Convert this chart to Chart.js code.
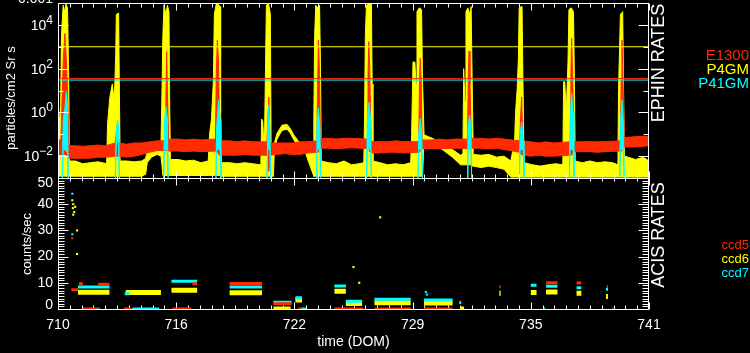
<!DOCTYPE html>
<html>
<head>
<meta charset="utf-8">
<script src="https://cdn.jsdelivr.net/npm/chart.js"></script>
<style>
  html, body { margin: 0; padding: 0; background: #000; }
  #wrap { position: relative; width: 750px; height: 353px; overflow: hidden; background: #000; }
  canvas { position: absolute; left: 0; }
  #ephin { top: 0; width: 750px; height: 180px; }
  #acis { top: 160px; width: 750px; height: 193px; }
</style>
</head>
<body>
<div id="wrap">
  <canvas id="ephin" width="750" height="180"></canvas>
  <canvas id="acis" width="750" height="193"></canvas>
</div>
<script>
// --- EPHIN rates, rows are [day, high, low] of the plotted band ---
const p4gmRows = [
  [710.00, 0.08, 0.0012], [710.14, 2, 0.0012], [710.18, 3000, 0.0012], [710.27, 80000, 0.0012],
  [710.34, 40000, 0.0012], [710.42, 90000, 0.0012], [710.50, 60000, 0.0012], [710.56, 50, 0.0012],
  [710.60, 0.006, 0.0012], [710.90, 0.006, 0.0012], [711.30, 0.0045, 0.0012], [711.70, 0.005, 0.0012],
  [712.10, 0.0055, 0.0012], [712.55, 0.0045, 0.0012], [712.60, 0.3, 0.0012], [712.72, 5, 0.0012],
  [712.85, 20, 0.0012], [712.95, 3, 0.0012], [713.03, 500, 0.0012], [713.06, 30000, 0.0012],
  [713.18, 35000, 0.0012], [713.22, 10, 0.0012], [713.26, 0.006, 0.0012], [713.60, 0.006, 0.0012],
  [714.00, 0.0055, 0.0012], [714.40, 0.006, 0.0012], [714.60, 0.008, 0.0015], [714.68, 0.02, 0.005],
  [714.90, 0.03, 0.009], [715.20, 0.035, 0.012], [715.40, 0.03, 0.01], [715.45, 5, 0.004],
  [715.50, 3000, 0.0013], [715.56, 80000, 0.0013], [715.66, 30000, 0.0013], [715.74, 80000, 0.0013],
  [715.82, 40000, 0.0013], [715.86, 2, 0.0013], [715.90, 0.007, 0.0013], [716.30, 0.007, 0.0013],
  [716.70, 0.006, 0.0013], [717.10, 0.0065, 0.0013], [717.50, 0.005, 0.0013], [717.88, 0.006, 0.0013],
  [717.95, 0.1, 0.0013], [718.05, 0.5, 0.0013], [718.15, 30, 0.0013], [718.20, 30000, 0.0013],
  [718.30, 90000, 0.0013], [718.40, 90000, 0.0013], [718.50, 70000, 0.0013], [718.53, 1, 0.0012],
  [718.57, 0.005, 0.0012], [719.00, 0.005, 0.0012], [719.40, 0.0045, 0.0012], [719.80, 0.005, 0.0012],
  [720.20, 0.0045, 0.0012], [720.64, 0.004, 0.0012], [720.68, 0.5, 0.0012], [720.74, 0.4, 0.0012],
  [720.82, 0.01, 0.0012], [720.93, 80000, 0.0012], [721.05, 90000, 0.0012], [721.14, 30000, 0.0012],
  [721.18, 0.01, 0.0012], [721.30, 0.02, 0.0012], [721.35, 0.04, 0.02], [721.49, 0.11, 0.06],
  [721.75, 0.26, 0.15], [722.02, 0.28, 0.17], [722.19, 0.18, 0.11], [722.37, 0.093, 0.055],
  [722.63, 0.046, 0.027], [722.98, 0.027, 0.014], [723.20, 0.02, 0.004], [723.38, 0.016, 0.0015],
  [723.42, 0.5, 0.0012], [723.46, 3000, 0.0012], [723.52, 80000, 0.0012], [723.62, 60000, 0.0012],
  [723.72, 80000, 0.0012], [723.77, 100, 0.0012], [723.81, 0.006, 0.0012], [724.20, 0.005, 0.0012],
  [724.60, 0.0045, 0.0012], [725.00, 0.006, 0.0012], [725.40, 0.004, 0.0012], [725.80, 0.0045, 0.0012],
  [726.04, 0.005, 0.0012], [726.08, 0.6, 0.0012], [726.12, 3000, 0.0012], [726.18, 80000, 0.0012],
  [726.30, 90000, 0.0012], [726.44, 90000, 0.0012], [726.48, 20, 0.0012], [726.52, 0.006, 0.0012],
  [726.90, 0.005, 0.0012], [727.30, 0.004, 0.0012], [727.70, 0.0045, 0.0012], [728.10, 0.004, 0.0012],
  [728.50, 0.005, 0.0012], [728.55, 0.1, 0.0012], [728.62, 200, 0.0012], [728.72, 200, 0.0012],
  [728.78, 20, 0.0012], [728.83, 40000, 0.0012], [728.95, 60000, 0.0012], [729.07, 50000, 0.0012],
  [729.12, 30, 0.0012], [729.20, 0.093, 0.05], [729.64, 0.065, 0.035], [730.16, 0.04, 0.02],
  [730.69, 0.02, 0.009], [731.12, 0.011, 0.004], [731.24, 0.013, 0.004], [731.28, 100, 0.004],
  [731.35, 3, 0.004], [731.40, 40000, 0.004], [731.50, 60000, 0.004], [731.58, 30000, 0.004],
  [731.67, 70000, 0.004], [731.72, 50, 0.0035], [731.78, 0.012, 0.0035], [732.20, 0.011, 0.003],
  [732.60, 0.012, 0.0035], [733.00, 0.009, 0.003], [733.40, 0.01, 0.0025], [733.75, 0.006, 0.0011],
  [733.95, 0.05, 0.0011], [734.00, 1, 0.0011], [734.08, 10, 0.0011], [734.15, 300, 0.0011],
  [734.19, 60000, 0.0011], [734.34, 70000, 0.0011], [734.40, 5, 0.0011], [734.45, 0.005, 0.0011],
  [734.90, 0.004, 0.0011], [735.30, 0.0035, 0.0011], [735.70, 0.004, 0.0011], [736.10, 0.0045, 0.0011],
  [736.48, 0.004, 0.0011], [736.52, 25, 0.0011], [736.58, 25, 0.0011], [736.66, 1, 0.0011],
  [736.75, 200, 0.0011], [736.80, 50000, 0.0011], [736.92, 60000, 0.0011], [737.04, 40000, 0.0011],
  [737.08, 100, 0.0011], [737.13, 0.006, 0.0011], [737.50, 0.005, 0.0011], [737.90, 0.006, 0.0011],
  [738.30, 0.005, 0.0011], [738.70, 0.0055, 0.0011], [739.10, 0.005, 0.0011], [739.37, 0.004, 0.0011],
  [739.40, 10, 0.0011], [739.45, 500, 0.0011], [739.50, 30000, 0.0011], [739.62, 40000, 0.0011],
  [739.66, 30, 0.0011], [739.71, 0.01, 0.0011], [739.90, 0.009, 0.0011], [740.30, 0.007, 0.0011],
  [740.70, 0.009, 0.0011], [741.00, 0.006, 0.0011]
];

const e1300Rows = [
  [710.00, 0.065, 0.012], [710.15, 0.05, 0.012], [710.28, 300, 0.012], [710.36, 4000, 0.012],
  [710.42, 500, 0.012], [710.48, 30, 0.01], [710.58, 0.03, 0.008], [710.90, 0.03, 0.008],
  [711.30, 0.028, 0.008], [711.70, 0.03, 0.008], [712.10, 0.032, 0.009], [712.50, 0.03, 0.009],
  [713.00, 0.04, 0.01], [713.12, 0.3, 0.01], [713.20, 0.04, 0.01], [713.60, 0.035, 0.009],
  [714.00, 0.04, 0.01], [714.40, 0.04, 0.012], [714.80, 0.045, 0.015], [715.20, 0.05, 0.018],
  [715.62, 0.05, 0.018], [715.66, 5, 0.018], [715.70, 600, 0.018], [715.74, 10, 0.018],
  [715.80, 0.06, 0.017], [716.30, 0.06, 0.017], [716.70, 0.055, 0.016], [717.10, 0.06, 0.017],
  [717.50, 0.055, 0.016], [718.26, 0.06, 0.017], [718.30, 50, 0.017], [718.36, 2000, 0.017],
  [718.42, 200, 0.012], [718.48, 0.05, 0.011], [719.00, 0.05, 0.011], [719.40, 0.045, 0.011],
  [719.80, 0.05, 0.012], [720.20, 0.045, 0.011], [720.96, 0.045, 0.011], [721.00, 0.3, 0.011],
  [721.06, 5, 0.002], [721.12, 0.04, 0.011], [721.50, 0.04, 0.012], [721.90, 0.04, 0.013],
  [722.30, 0.04, 0.012], [722.70, 0.045, 0.012], [723.10, 0.045, 0.014], [723.58, 0.05, 0.015],
  [723.62, 30, 0.015], [723.66, 2000, 0.015], [723.71, 100, 0.02], [723.76, 0.065, 0.023],
  [724.20, 0.065, 0.023], [724.60, 0.06, 0.022], [725.00, 0.065, 0.023], [725.40, 0.065, 0.024],
  [726.22, 0.06, 0.022], [726.26, 40, 0.022], [726.30, 1700, 0.02], [726.35, 100, 0.016],
  [726.42, 0.046, 0.014], [726.90, 0.046, 0.014], [727.30, 0.045, 0.015], [727.70, 0.05, 0.015],
  [728.10, 0.046, 0.014], [728.92, 0.046, 0.015], [728.96, 20, 0.015], [729.00, 300, 0.018],
  [729.05, 30, 0.02], [729.10, 0.055, 0.022], [729.60, 0.055, 0.022], [730.00, 0.06, 0.022],
  [730.40, 0.055, 0.022], [730.80, 0.06, 0.023], [731.48, 0.06, 0.022], [731.52, 30, 0.022],
  [731.56, 630, 0.022], [731.61, 20, 0.022], [731.68, 0.065, 0.023], [732.20, 0.065, 0.023],
  [732.60, 0.06, 0.022], [733.00, 0.065, 0.023], [733.40, 0.06, 0.02], [734.22, 0.05, 0.015],
  [734.26, 0.5, 0.012], [734.32, 5, 0.012], [734.38, 0.05, 0.011], [734.80, 0.045, 0.01],
  [735.20, 0.04, 0.011], [735.60, 0.045, 0.01], [736.00, 0.04, 0.01], [736.86, 0.045, 0.011],
  [736.90, 40, 0.011], [736.94, 2500, 0.011], [736.99, 100, 0.014], [737.06, 0.046, 0.016],
  [737.50, 0.045, 0.016], [737.90, 0.046, 0.016], [738.30, 0.045, 0.015], [738.70, 0.046, 0.016],
  [739.50, 0.05, 0.017], [739.54, 30, 0.017], [739.58, 2000, 0.02], [739.63, 50, 0.025],
  [739.70, 0.07, 0.026], [740.10, 0.075, 0.026], [740.50, 0.08, 0.027], [741.00, 0.08, 0.03]
];

const p41gmRows = [
  [710.00, 0.0008, 0.0005], [710.22, 0.0008, 0.0005], [710.27, 0.5, 0.02], [710.36, 1.5, 0.02],
  [710.44, 9, 0.016], [710.50, 2, 0.02], [710.54, 0.0008, 0.0005], [713.00, 0.0008, 0.0005],
  [713.05, 0.1, 0.03], [713.12, 0.45, 0.05], [713.18, 0.2, 0.05], [713.22, 0.0008, 0.0005],
  [715.54, 0.0008, 0.0005], [715.58, 0.3, 0.02], [715.66, 1.8, 0.02], [715.74, 0.5, 0.02],
  [715.78, 0.0008, 0.0005], [718.28, 0.0008, 0.0005], [718.32, 0.2, 0.02], [718.42, 3.7, 0.02],
  [718.50, 0.5, 0.02], [718.54, 0.0008, 0.0005], [720.96, 0.0008, 0.0005], [721.00, 0.3, 0.02],
  [721.06, 2.2, 0.02], [721.12, 0.1, 0.02], [721.16, 0.0008, 0.0005], [723.54, 0.0008, 0.0005],
  [723.58, 0.3, 0.02], [723.66, 1.6, 0.02], [723.74, 0.2, 0.02], [723.78, 0.0008, 0.0005],
  [726.18, 0.0008, 0.0005], [726.22, 0.3, 0.02], [726.32, 3, 0.02], [726.40, 0.4, 0.02],
  [726.44, 0.0008, 0.0005], [728.88, 0.0008, 0.0005], [728.92, 0.1, 0.02], [729.00, 0.54, 0.02],
  [729.08, 0.1, 0.02], [729.12, 0.0008, 0.0005], [731.46, 0.0008, 0.0005], [731.50, 0.2, 0.02],
  [731.58, 0.76, 0.02], [731.66, 0.2, 0.02], [731.70, 0.0008, 0.0005], [734.20, 0.0008, 0.0005],
  [734.24, 0.1, 0.02], [734.32, 0.36, 0.02], [734.40, 0.05, 0.02], [734.44, 0.0008, 0.0005],
  [736.82, 0.0008, 0.0005], [736.86, 0.4, 0.02], [736.94, 7.6, 0.02], [737.02, 1, 0.02],
  [737.06, 0.0008, 0.0005], [739.46, 0.0008, 0.0005], [739.50, 0.3, 0.02], [739.58, 3.7, 0.02],
  [739.66, 0.3, 0.02], [739.70, 0.0008, 0.0005], [741.00, 0.0008, 0.0005]
];

// alert levels (horizontal lines)
const p4gmLimit = 1000;
const e1300Limit = 35;
const p41gmLimit = 30;

// --- ACIS rates: [start day, end day, counts/sec] ---
const ccd5Spans = [
  [710.70, 711.05, 7.3], [711.10, 711.30, 9.6], [712.10, 712.70, 9.4], [717.05, 717.30, 9.6],
  [719.00, 720.70, 9.7], [721.30, 722.25, 2.0], [733.15, 733.22, 8.5], [735.60, 736.20, 10.0],
  [737.20, 737.45, 9.9], [738.78, 738.84, 8.6],
  [711.30, 712.10, 0], [713.45, 713.85, 0], [716.00, 717.00, 0], [722.60, 722.80, 0],
  [724.50, 726.00, 0], [726.60, 728.50, 0], [729.20, 730.70, 0]
];
const ccd6Spans = [
  [711.05, 712.70, 6.4], [713.55, 715.40, 6.3], [715.95, 717.30, 7.2], [719.00, 720.70, 6.2],
  [722.45, 722.80, 3.4], [724.50, 725.10, 6.8], [725.10, 725.95, 2.1], [726.60, 728.50, 2.4],
  [729.20, 730.70, 2.3], [733.15, 733.22, 6.0], [734.80, 735.10, 6.3], [735.60, 736.20, 6.5],
  [737.20, 737.45, 6.0], [738.75, 738.85, 4.8],
  [721.30, 722.20, 0], [731.10, 731.30, 0]
];
const ccd7Spans = [
  [711.05, 712.70, 8.4], [713.50, 713.75, 5.8], [715.95, 717.30, 10.6], [719.00, 720.70, 8.4],
  [721.30, 722.25, 2.6], [722.45, 722.80, 4.3], [724.50, 725.10, 8.8], [725.10, 725.95, 3.0],
  [726.60, 728.50, 3.7], [729.20, 730.70, 3.4], [731.05, 731.15, 2.5], [734.80, 735.10, 9.1],
  [735.60, 736.20, 8.7], [737.20, 737.45, 8.1], [738.75, 738.85, 7.5],
  [712.12, 712.18, 0], [713.90, 715.30, 0], [722.80, 723.00, 0], [735.50, 735.55, 0], [739.08, 739.12, 0]
];
const ccd5Dots = [[710.75, 27]];
const ccd6Dots = [
  [710.75, 41.5], [710.80, 40], [710.78, 38.5], [710.85, 37], [710.80, 36], [710.90, 39],
  [711.00, 30], [711.00, 21], [725.50, 16], [725.80, 10], [726.90, 35]
];
const ccd7Dots = [[710.75, 44], [710.75, 28.5], [729.30, 6.5], [729.35, 5.5]];

// axis ticks
const domTicks = [710, 716.2, 722.4, 728.6, 734.8, 741];
const domTickLabels = ['710', '716', '722', '729', '735', '741'];
const ephinExponents = [-2, 0, 2, 4];
const acisTicks = [0, 10, 20, 30, 40, 50];

const RED = '#ff2a00', YELLOW = '#ffff00', CYAN = '#00ffff';
const FONT = '"Liberation Sans", Arial, sans-serif';

function band(rows, color, order) {
  return [
    { data: rows.map(r => ({ x: r[0], y: r[2] })), borderColor: color, borderWidth: 1, fill: false, order },
    { data: rows.map(r => ({ x: r[0], y: r[1] })), borderColor: color, backgroundColor: color,
      borderWidth: 1, fill: '-1', order }
  ];
}
function limit(v, color) {
  return { data: [{ x: 710, y: v }, { x: 741, y: v }], borderColor: color, borderWidth: 1, fill: false, order: 0 };
}
function spans(list, color, width, order) {
  const pts = [];
  list.forEach(s => { pts.push({ x: s[0], y: s[2] }, { x: s[1], y: s[2] }, { x: s[1], y: null }); });
  return { data: pts, borderColor: color, borderWidth: width, borderCapStyle: 'butt', fill: false, order };
}
function dots(list, color, order) {
  return { data: list.map(d => ({ x: d[0], y: d[1] })), showLine: false, pointRadius: 1.5,
    pointStyle: 'rect', pointBackgroundColor: color, pointBorderWidth: 0, order };
}

function line(ctx, x1, y1, x2, y2) { ctx.beginPath(); ctx.moveTo(x1, y1); ctx.lineTo(x2, y2); ctx.stroke(); }
function vtext(ctx, txt, x, y, font, color) {
  ctx.save(); ctx.translate(x, y); ctx.rotate(-Math.PI / 2);
  ctx.font = font; ctx.fillStyle = color; ctx.textAlign = 'center'; ctx.textBaseline = 'middle';
  ctx.fillText(txt, 0, 0); ctx.restore();
}
function xTicks(ctx, x, yEdge, dir, major, minor) {
  for (let i = 0; i <= 50; i++) {
    const px = Math.round(x.getPixelForValue(710 + i * 0.62)) + 0.5;
    line(ctx, px, yEdge, px, yEdge + dir * (i % 10 === 0 ? major : minor));
  }
}

const ephinDecor = {
  id: 'ephinDecor',
  afterDatasetsDraw(chart) {
    const { ctx, chartArea: a, scales: { x, y } } = chart;
    ctx.save();
    ctx.strokeStyle = '#fff'; ctx.lineWidth = 1;
    const L = a.left + 0.5, R = a.right - 0.5, T = a.top + 0.5, B = a.bottom + 0.5;
    ctx.strokeRect(L, T, R - L, B - T);
    for (let k = -3; k <= 5; k++) {
      const py = Math.round(y.getPixelForValue(Math.pow(10, k))) + 0.5;
      const len = k % 2 === 0 ? 10 : 5;
      line(ctx, L, py, L + len, py); line(ctx, R, py, R - len, py);
    }
    xTicks(ctx, x, T, 1, 7, 4);
    xTicks(ctx, x, B, -1, 7, 4);
    ctx.fillStyle = '#fff'; ctx.textAlign = 'right'; ctx.textBaseline = 'alphabetic';
    ephinExponents.forEach(e => {
      const py = y.getPixelForValue(Math.pow(10, e));
      const ex = e < 0 ? '\u2212' + (-e) : String(e);
      ctx.font = '12px ' + FONT;
      const w = ctx.measureText(ex).width;
      ctx.fillText(ex, 53, py - 1);
      ctx.font = '14px ' + FONT;
      ctx.fillText('10', 53 - w, py + 5);
    });
    ctx.font = '14px ' + FONT;
    ctx.fillText('0.001', 53, 3);
    vtext(ctx, 'particles/cm2 Sr s', 11, 98, '13px ' + FONT, '#fff');
    vtext(ctx, 'EPHIN RATES', 659, 63, '18px ' + FONT, '#fff');
    ctx.font = '15px ' + FONT; ctx.textAlign = 'right';
    ctx.fillStyle = RED; ctx.fillText('E1300', 749, 60);
    ctx.fillStyle = YELLOW; ctx.fillText('P4GM', 749, 74);
    ctx.fillStyle = CYAN; ctx.fillText('P41GM', 749, 88);
    ctx.restore();
  }
};

const acisDecor = {
  id: 'acisDecor',
  beforeDatasetsDraw(chart) {
    const { ctx, chartArea: a, scales: { x, y } } = chart;
    ctx.save();
    ctx.strokeStyle = '#fff'; ctx.lineWidth = 1;
    const L = a.left + 0.5, R = a.right - 0.5, T = a.top + 0.5, B = a.bottom + 0.5;
    ctx.strokeRect(L, T, R - L, B - T);
    for (let v = 0; v <= 50; v++) {
      const py = Math.round(y.getPixelForValue(v)) + 0.5;
      const len = v % 10 === 0 ? 10 : 6;
      line(ctx, L, py, L + len, py); line(ctx, R, py, R - len, py);
    }
    xTicks(ctx, x, T, 1, 7, 3);
    xTicks(ctx, x, B, -1, 7, 4);
    // y labels, end ones kept inside the panel like the original
    ctx.fillStyle = '#fff'; ctx.font = '14px ' + FONT; ctx.textAlign = 'right'; ctx.textBaseline = 'middle';
    acisTicks.forEach(v => {
      const py = Math.min(Math.max(y.getPixelForValue(v), a.top + 5), a.bottom - 4);
      ctx.fillText(String(v), 53, py);
    });
    ctx.restore();
  },
  afterDraw(chart) {
    const { ctx, chartArea: a } = chart;
    ctx.save();
    vtext(ctx, 'counts/sec', 27, 84, '13px ' + FONT, '#fff');
    vtext(ctx, 'ACIS RATES', 659, 75, '18px ' + FONT, '#fff');
    ctx.font = '14px ' + FONT; ctx.fillStyle = '#fff'; ctx.textAlign = 'center'; ctx.textBaseline = 'middle';
    ctx.fillText('time (DOM)', (a.left + a.right) / 2, 182);
    ctx.font = '13px ' + FONT; ctx.textAlign = 'right'; ctx.textBaseline = 'alphabetic';
    ctx.fillStyle = RED; ctx.fillText('ccd5', 749, 89);
    ctx.fillStyle = YELLOW; ctx.fillText('ccd6', 749, 103);
    ctx.fillStyle = CYAN; ctx.fillText('ccd7', 749, 117);
    ctx.restore();
  }
};

const common = {
  responsive: false, animation: false, devicePixelRatio: 1,
  plugins: { legend: { display: false }, tooltip: { enabled: false } },
  elements: { line: { tension: 0 }, point: { radius: 0 } }
};

new Chart(document.getElementById('ephin'), {
  type: 'line',
  data: {
    datasets: [
      ...band(p4gmRows, YELLOW, 5),
      ...band(e1300Rows, RED, 4),
      ...band(p41gmRows, CYAN, 3),
      limit(p4gmLimit, YELLOW), limit(e1300Limit, RED), limit(p41gmLimit, CYAN)
    ]
  },
  options: Object.assign({}, common, {
    layout: { padding: { top: 3, right: 101, bottom: 2, left: 0 } },
    scales: {
      x: { type: 'linear', min: 710, max: 741, display: false },
      y: { type: 'logarithmic', min: 0.001, max: 100000,
        afterFit(s) { s.width = 58; },
        grid: { display: false, drawTicks: false }, border: { display: false }, ticks: { display: false } }
    }
  }),
  plugins: [ephinDecor]
});

const tickFont = { family: FONT, size: 14 };
new Chart(document.getElementById('acis'), {
  type: 'line',
  data: {
    datasets: [
      spans(ccd6Spans, YELLOW, 5, 3), spans(ccd7Spans, CYAN, 3, 2), spans(ccd5Spans, RED, 3, 1),
      dots(ccd6Dots, YELLOW, 3), dots(ccd7Dots, CYAN, 2), dots(ccd5Dots, RED, 1)
    ]
  },
  options: Object.assign({}, common, {
    layout: { padding: { top: 18, right: 101, bottom: 0, left: 0 } },
    scales: {
      x: { type: 'linear', min: 710, max: 741,
        afterBuildTicks(s) { s.ticks = domTicks.map(v => ({ value: v })); },
        afterFit(s) { s.height = 44; },
        grid: { display: false, drawTicks: false }, border: { display: false },
        ticks: { color: '#fff', font: tickFont, padding: 8, autoSkip: false, maxRotation: 0,
          callback: (v, i) => domTickLabels[i] } },
      y: { type: 'linear', min: 0, max: 50,
        afterBuildTicks(s) { s.ticks = acisTicks.map(v => ({ value: v })); },
        afterFit(s) { s.width = 58; },
        grid: { display: false, drawTicks: false }, border: { display: false },
        ticks: { display: false } }
    }
  }),
  plugins: [acisDecor]
});
</script>
</body>
</html>
